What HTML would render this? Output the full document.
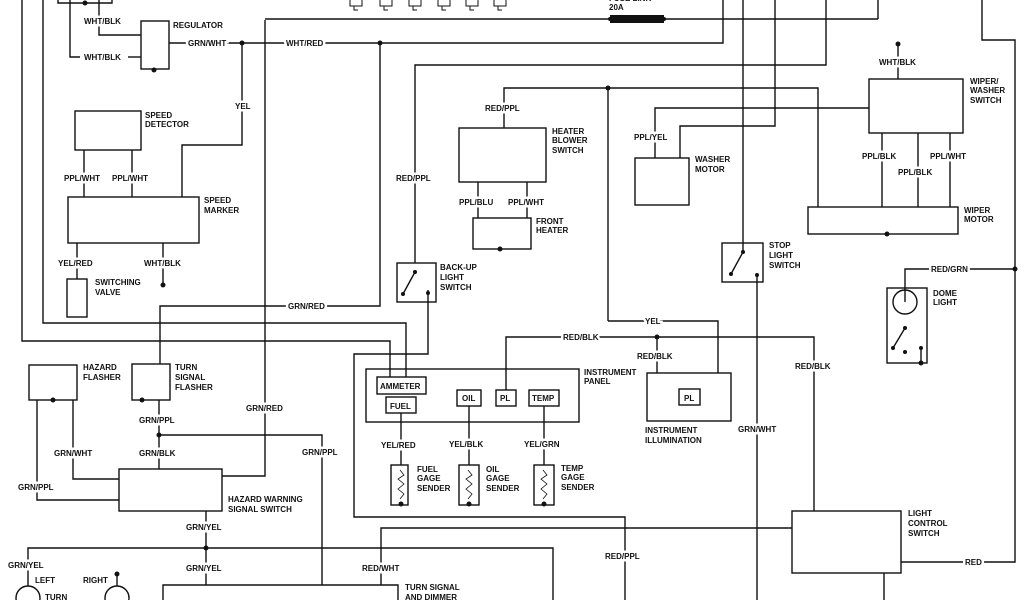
<!DOCTYPE html>
<html><head><meta charset="utf-8"><style>
html,body{margin:0;padding:0;background:#fff}
svg{display:block}
text{font-family:"Liberation Sans",sans-serif;font-size:8px;font-weight:bold;fill:#111}
.g{stroke:#fff;stroke-width:5px;paint-order:stroke}
</style></head><body>
<svg width="1024" height="600" viewBox="0 0 1024 600" xmlns="http://www.w3.org/2000/svg">
<g fill="none" stroke="#111" stroke-width="1.4">
<polyline points="22,0 22,341 390,341 390,377"/>
<polyline points="43,0 43,323 406,323 406,377"/>
<polyline points="58,0 58,3 112,3 112,0"/>
<polyline points="70,0 70,57 80,57"/>
<line x1="128" y1="57" x2="141" y2="57"/>
<polyline points="99,0 99,35 141,35"/>
<rect x="141" y="21" width="28" height="48"/>
<polyline points="169,43 723,43 723,0"/>
<polyline points="242,43 242,145 182,145 182,197"/>
<polyline points="222,476 265,476 265,20"/>
<line x1="265" y1="19" x2="878" y2="19"/>
<line x1="878" y1="19" x2="878" y2="0"/>
<rect x="75" y="111" width="66" height="39"/>
<line x1="84" y1="150" x2="84" y2="197"/>
<line x1="132" y1="150" x2="132" y2="197"/>
<rect x="68" y="197" width="131" height="46"/>
<line x1="77" y1="243" x2="77" y2="279"/>
<rect x="67" y="279" width="20" height="38"/>
<line x1="163" y1="243" x2="163" y2="285"/>
<polyline points="380,43 380,306 160,306 160,364"/>
<polyline points="415,263 415,65 826,65 826,0"/>
<polyline points="504,128 504,88 818,88 818,207"/>
<line x1="608" y1="88" x2="608" y2="321"/>
<polyline points="608,321 718,321 718,373"/>
<rect x="459" y="128" width="87" height="54"/>
<line x1="478" y1="182" x2="478" y2="218"/>
<line x1="527" y1="182" x2="527" y2="218"/>
<rect x="473" y="218" width="58" height="31"/>
<rect x="397" y="263" width="39" height="39"/>
<line x1="403" y1="294" x2="415" y2="272"/>
<polyline points="428,290 428,354 354,354 354,517 625,517 625,600"/>
<polyline points="655,158 655,108 869,108"/>
<polyline points="680,158 680,126 775,126 775,0"/>
<rect x="635" y="158" width="54" height="47"/>
<line x1="743" y1="0" x2="743" y2="251"/>
<rect x="722" y="243" width="41" height="39"/>
<line x1="731" y1="274" x2="743" y2="252"/>
<line x1="757" y1="275" x2="757" y2="600"/>
<rect x="869" y="79" width="94" height="54"/>
<line x1="898" y1="44" x2="898" y2="79"/>
<line x1="882" y1="133" x2="882" y2="207"/>
<line x1="918" y1="133" x2="918" y2="207"/>
<line x1="950" y1="133" x2="950" y2="207"/>
<rect x="808" y="207" width="150" height="27"/>
<polyline points="982,0 982,40 1015,40 1015,562 901,562"/>
<polyline points="905,302 905,269 1015,269"/>
<rect x="887" y="288" width="40" height="75"/>
<circle cx="905" cy="302" r="12"/>
<line x1="893" y1="348" x2="905" y2="328"/>
<line x1="921" y1="348" x2="921" y2="363"/>
<polyline points="506,390 506,337 814,337 814,511"/>
<line x1="657" y1="337" x2="657" y2="373"/>
<rect x="647" y="373" width="84" height="48"/>
<rect x="679" y="389" width="21" height="16"/>
<rect x="792" y="511" width="109" height="62"/>
<line x1="884" y1="573" x2="884" y2="600"/>
<polyline points="381,585 381,528 792,528"/>
<rect x="366" y="369" width="213" height="53"/>
<rect x="377" y="377" width="49" height="17"/>
<rect x="386" y="397" width="30" height="16"/>
<rect x="457" y="390" width="24" height="16"/>
<rect x="496" y="390" width="20" height="16"/>
<rect x="529" y="390" width="30" height="16"/>
<line x1="401" y1="413" x2="401" y2="465"/>
<line x1="469" y1="406" x2="469" y2="465"/>
<line x1="544" y1="406" x2="544" y2="465"/>
<rect x="391" y="465" width="17" height="40"/>
<rect x="459" y="465" width="20" height="40"/>
<rect x="534" y="465" width="20" height="40"/>
<path d="M400,470 l4,5 l-6,4 l6,5 l-6,5 l6,5 l-4,5" stroke-width="0.8"/>
<path d="M468,470 l4,5 l-6,4 l6,5 l-6,5 l6,5 l-4,5" stroke-width="0.8"/>
<path d="M543,470 l4,5 l-6,4 l6,5 l-6,5 l6,5 l-4,5" stroke-width="0.8"/>
<rect x="29" y="365" width="48" height="35"/>
<rect x="132" y="364" width="38" height="36"/>
<polyline points="37,400 37,500 119,500"/>
<polyline points="73,400 73,479 119,479"/>
<line x1="159" y1="400" x2="159" y2="469"/>
<polyline points="159,435 322,435 322,585"/>
<rect x="119" y="469" width="103" height="42"/>
<line x1="206" y1="511" x2="206" y2="585"/>
<polyline points="28,586 28,548 553,548 553,600"/>
<circle cx="28" cy="598" r="12"/>
<circle cx="117" cy="598" r="12"/>
<line x1="117" y1="574" x2="117" y2="586"/>
<polyline points="163,600 163,585 398,585 398,600"/>
<path d="M350,0 v6 h12 v-6 M354,6 v4 h4 M380,0 v6 h12 v-6 M384,6 v4 h4 M409,0 v6 h12 v-6 M413,6 v4 h4 M438,0 v6 h12 v-6 M442,6 v4 h4 M466,0 v6 h12 v-6 M470,6 v4 h4 M494,0 v6 h12 v-6 M498,6 v4 h4" stroke-width="1"/>
</g>
<rect x="610" y="15" width="54" height="8" fill="#111"/>
<g fill="#111">
<circle cx="85" cy="3" r="2.5"/><circle cx="154" cy="70" r="2.5"/>
<circle cx="242" cy="43" r="2.5"/><circle cx="380" cy="43" r="2.5"/>
<circle cx="608" cy="88" r="2.5"/><circle cx="163" cy="285" r="2.5"/>
<circle cx="500" cy="249" r="2.5"/><circle cx="415" cy="272" r="2"/>
<circle cx="403" cy="294" r="2"/><circle cx="428" cy="293" r="2"/>
<circle cx="743" cy="252" r="2"/><circle cx="731" cy="274" r="2"/><circle cx="757" cy="275" r="2"/>
<circle cx="898" cy="44" r="2.5"/><circle cx="887" cy="234" r="2.5"/>
<circle cx="1015" cy="269" r="2.5"/><circle cx="905" cy="328" r="2"/>
<circle cx="893" cy="348" r="2"/><circle cx="905" cy="352" r="2"/><circle cx="921" cy="348" r="2"/><circle cx="921" cy="363" r="2.5"/>
<circle cx="657" cy="337" r="2.5"/>
<circle cx="401" cy="504" r="2.5"/><circle cx="469" cy="504" r="2.5"/><circle cx="544" cy="504" r="2.5"/>
<circle cx="53" cy="400" r="2.5"/><circle cx="142" cy="400" r="2.5"/>
<circle cx="159" cy="435" r="2.5"/><circle cx="206" cy="548" r="2.5"/>
<circle cx="117" cy="574" r="2.5"/><circle cx="610" cy="19" r="2"/><circle cx="664" cy="19" r="2"/>
</g>
<text x="84" y="24" class="g">WHT/BLK</text>
<text x="84" y="60" class="g">WHT/BLK</text>
<text x="173" y="28">REGULATOR</text>
<text x="188" y="46" class="g">GRN/WHT</text>
<text x="286" y="46" class="g">WHT/RED</text>
<text x="235" y="109" class="g">YEL</text>
<text x="609" y="1">FUSE LINK</text>
<text x="609" y="10">20A</text>
<text x="145" y="118">SPEED</text><text x="145" y="127">DETECTOR</text>
<text x="64" y="181" class="g">PPL/WHT</text><text x="112" y="181" class="g">PPL/WHT</text>
<text x="204" y="203">SPEED</text><text x="204" y="213">MARKER</text>
<text x="58" y="266" class="g">YEL/RED</text><text x="144" y="266" class="g">WHT/BLK</text>
<text x="95" y="285">SWITCHING</text><text x="95" y="295">VALVE</text>
<text x="396" y="181" class="g">RED/PPL</text>
<text x="485" y="111" class="g">RED/PPL</text>
<text x="552" y="134">HEATER</text><text x="552" y="143">BLOWER</text><text x="552" y="153">SWITCH</text>
<text x="459" y="205" class="g">PPL/BLU</text><text x="508" y="205" class="g">PPL/WHT</text>
<text x="536" y="224">FRONT</text><text x="536" y="233">HEATER</text>
<text x="440" y="270">BACK-UP</text><text x="440" y="280">LIGHT</text><text x="440" y="290">SWITCH</text>
<text x="634" y="140" class="g">PPL/YEL</text>
<text x="695" y="162">WASHER</text><text x="695" y="172">MOTOR</text>
<text x="769" y="248">STOP</text><text x="769" y="258">LIGHT</text><text x="769" y="268">SWITCH</text>
<text x="879" y="65" class="g">WHT/BLK</text>
<text x="970" y="84">WIPER/</text><text x="970" y="93">WASHER</text><text x="970" y="103">SWITCH</text>
<text x="862" y="159" class="g">PPL/BLK</text><text x="898" y="175" class="g">PPL/BLK</text><text x="930" y="159" class="g">PPL/WHT</text>
<text x="964" y="213">WIPER</text><text x="964" y="222">MOTOR</text>
<text x="931" y="272" class="g">RED/GRN</text>
<text x="933" y="296">DOME</text><text x="933" y="305">LIGHT</text>
<text x="288" y="309" class="g">GRN/RED</text>
<text x="645" y="324" class="g">YEL</text>
<text x="563" y="340" class="g">RED/BLK</text>
<text x="637" y="359" class="g">RED/BLK</text>
<text x="795" y="369" class="g">RED/BLK</text>
<text x="584" y="375">INSTRUMENT</text><text x="584" y="384">PANEL</text>
<text x="380" y="389">AMMETER</text><text x="390" y="409">FUEL</text>
<text x="462" y="401">OIL</text><text x="500" y="401">PL</text><text x="532" y="401">TEMP</text>
<text x="684" y="401">PL</text>
<text x="645" y="433">INSTRUMENT</text><text x="645" y="443">ILLUMINATION</text>
<text x="738" y="432" class="g">GRN/WHT</text>
<text x="381" y="448" class="g">YEL/RED</text><text x="449" y="447" class="g">YEL/BLK</text><text x="524" y="447" class="g">YEL/GRN</text>
<text x="417" y="472">FUEL</text><text x="417" y="481">GAGE</text><text x="417" y="491">SENDER</text>
<text x="486" y="472">OIL</text><text x="486" y="481">GAGE</text><text x="486" y="491">SENDER</text>
<text x="561" y="471">TEMP</text><text x="561" y="480">GAGE</text><text x="561" y="490">SENDER</text>
<text x="83" y="370">HAZARD</text><text x="83" y="380">FLASHER</text>
<text x="175" y="370">TURN</text><text x="175" y="380">SIGNAL</text><text x="175" y="390">FLASHER</text>
<text x="139" y="423" class="g">GRN/PPL</text>
<text x="246" y="411" class="g">GRN/RED</text>
<text x="54" y="456" class="g">GRN/WHT</text>
<text x="139" y="456" class="g">GRN/BLK</text>
<text x="302" y="455" class="g">GRN/PPL</text>
<text x="18" y="490" class="g">GRN/PPL</text>
<text x="228" y="502">HAZARD WARNING</text><text x="228" y="512">SIGNAL SWITCH</text>
<text x="186" y="530" class="g">GRN/YEL</text>
<text x="8" y="568" class="g">GRN/YEL</text>
<text x="186" y="571" class="g">GRN/YEL</text>
<text x="362" y="571" class="g">RED/WHT</text>
<text x="605" y="559" class="g">RED/PPL</text>
<text x="35" y="583">LEFT</text><text x="45" y="600">TURN</text>
<text x="83" y="583">RIGHT</text>
<text x="405" y="590">TURN SIGNAL</text><text x="405" y="600">AND DIMMER</text>
<text x="908" y="516">LIGHT</text><text x="908" y="526">CONTROL</text><text x="908" y="536">SWITCH</text>
<text x="965" y="565" class="g">RED</text>
</svg>
</body></html>
